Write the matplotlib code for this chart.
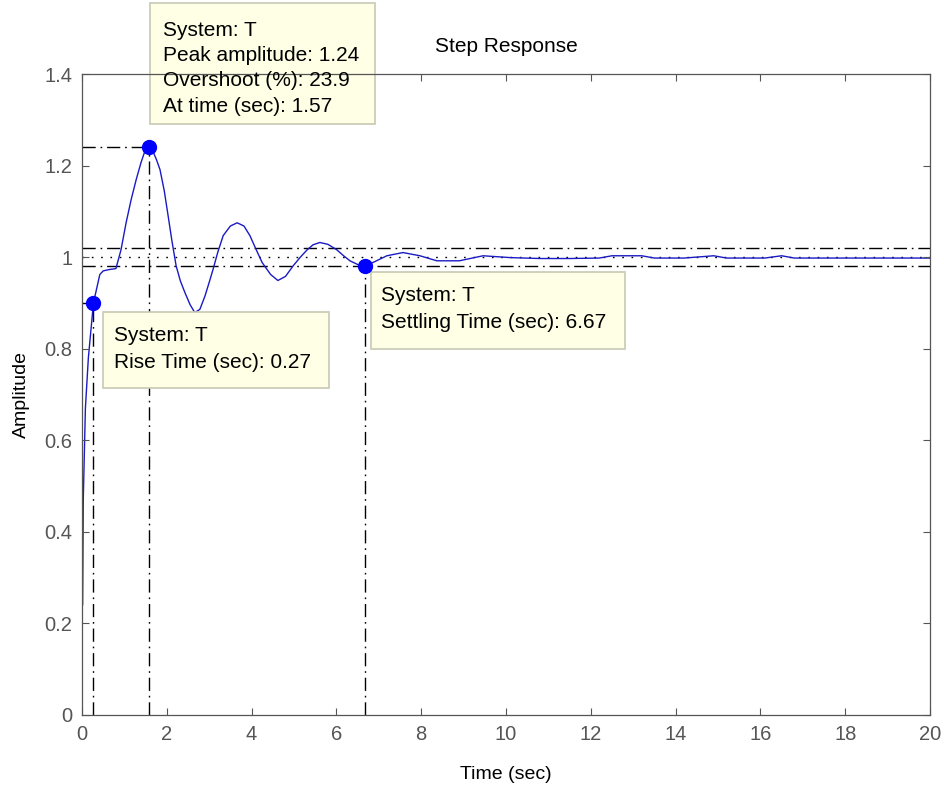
import matplotlib.pyplot as plt
from matplotlib.patches import Rectangle

plt.rcParams['font.family'] = ['Liberation Sans', 'DejaVu Sans']
plt.rcParams['lines.scale_dashes'] = False

# step response
t = [0.0, 0.015, 0.03, 0.08, 0.15, 0.27, 0.42, 0.5, 0.65, 0.8, 0.92, 1.04, 1.16,
     1.28, 1.39, 1.47, 1.57, 1.67, 1.76, 1.84, 1.94, 2.03, 2.12, 2.22, 2.32, 2.43,
     2.55, 2.66, 2.78, 2.9, 3.0, 3.09, 3.2, 3.33, 3.5, 3.66, 3.82, 3.96, 4.1, 4.25,
     4.45, 4.62, 4.8, 4.98, 5.15, 5.31, 5.45, 5.61, 5.8, 6.01, 6.17, 6.32, 6.5, 6.67,
     6.9, 7.19, 7.57, 7.97, 8.37, 8.9, 9.46, 10.1, 10.8, 11.5, 12.2, 12.5, 13.2,
     13.5, 14.2, 14.9, 15.2, 16.1, 16.5, 16.8, 17.5, 18.2, 19.0, 20.0]
y = [0.24, 0.24, 0.47, 0.67, 0.78, 0.90, 0.962, 0.97, 0.973, 0.975, 1.016, 1.075,
     1.126, 1.17, 1.206, 1.228, 1.243, 1.232, 1.212, 1.191, 1.145, 1.091, 1.036,
     0.981, 0.948, 0.922, 0.896, 0.879, 0.886, 0.915, 0.945, 0.973, 1.01, 1.047,
     1.068, 1.075, 1.068, 1.047, 1.018, 0.988, 0.962, 0.949, 0.958, 0.981, 1.0,
     1.016, 1.027, 1.032, 1.028, 1.016, 1.003, 0.992, 0.984, 0.98, 0.99, 1.003,
     1.01, 1.003, 0.992, 0.992, 1.003, 0.999, 0.997, 0.997, 0.998, 1.003, 1.003,
     0.998, 0.998, 1.003, 0.998, 0.998, 1.003, 0.998, 0.998, 0.998, 0.998, 0.998]

final_value = 1.0
band = 0.02
rise_t, rise_y = 0.27, 0.90
peak_t, peak_y = 1.57, 1.24
settle_t, settle_y = 6.67, 0.98

tip_peak = ["System: T", "Peak amplitude: 1.24", "Overshoot (%): 23.9", "At time (sec): 1.57"]
tip_rise = ["System: T", "Rise Time (sec): 0.27"]
tip_settle = ["System: T", "Settling Time (sec): 6.67"]

W, H = 944, 787
fig = plt.figure(figsize=(W / 100, H / 100), dpi=100)
ax = fig.add_axes([82 / W, 1 - 715 / H, 848 / W, 641 / H])

dashdot = (0, (9.5, 3.5, 1.2, 3.5))
dotted = (0, (1.2, 5.5))
kw = dict(color='black', lw=1.0, zorder=1)

ax.axhline(final_value, ls=dotted, **kw)
ax.axhline(final_value + band, ls=dashdot, **kw)
ax.axhline(final_value - band, ls=dashdot, **kw)
ax.plot([0, peak_t], [peak_y, peak_y], ls=dashdot, **kw)
ax.plot([peak_t, peak_t], [0, peak_y], ls=dashdot, **kw)
ax.plot([0, rise_t], [rise_y, rise_y], ls=dashdot, **kw)
ax.plot([rise_t, rise_t], [0, rise_y], ls=dashdot, **kw)
ax.plot([settle_t, settle_t], [0, settle_y], ls=dashdot, **kw)

ax.plot(t, y, color='#1a1ac4', lw=1.0, zorder=1.5)
ax.plot([rise_t, peak_t, settle_t], [rise_y, peak_y, settle_y], 'o',
        color='#0000ff', ms=10, zorder=4)

ax.set_xlim(0, 20)
ax.set_ylim(0, 1.4)
ax.set_xticks(range(0, 21, 2))
ax.set_yticks([0, 0.2, 0.4, 0.6, 0.8, 1, 1.2, 1.4])
ax.set_yticklabels(['0', '0.2', '0.4', '0.6', '0.8', '1', '1.2', '1.4'])
ax.tick_params(direction='in', top=True, right=True, length=5, width=0.8,
               labelsize=14.5, labelcolor='#555555', color='#555555', pad=7)
for s in ax.spines.values():
    s.set_color('#555555')
    s.set_linewidth(0.9)

ax.set_title("Step Response", fontsize=15, pad=16)
ax.set_xlabel("Time (sec)", fontsize=14, labelpad=16)
ax.set_ylabel("Amplitude", fontsize=14, labelpad=10)


def datatip(left, top, right, bottom, lines, pad=13, first=None, step=25.5):
    ax.add_patch(Rectangle((left / W, 1 - bottom / H), (right - left) / W,
                           (bottom - top) / H, transform=fig.transFigure,
                           facecolor='#ffffe6', edgecolor='#c8c8b4', lw=1.2,
                           clip_on=False, zorder=2))
    if first is None:
        first = top + 22
    for i, line in enumerate(lines):
        ax.text((left + pad) / W, 1 - (first + i * step) / H, line,
                transform=fig.transFigure, fontsize=15, va='center',
                ha='left', color='black', zorder=3, clip_on=False)


datatip(150, 3, 375, 124, tip_peak, first=30)
datatip(103, 312, 329, 388, tip_rise, pad=11, first=335, step=27)
datatip(371, 272, 625, 349, tip_settle, pad=10, first=295, step=27)

fig.savefig("out.png", dpi=100)
